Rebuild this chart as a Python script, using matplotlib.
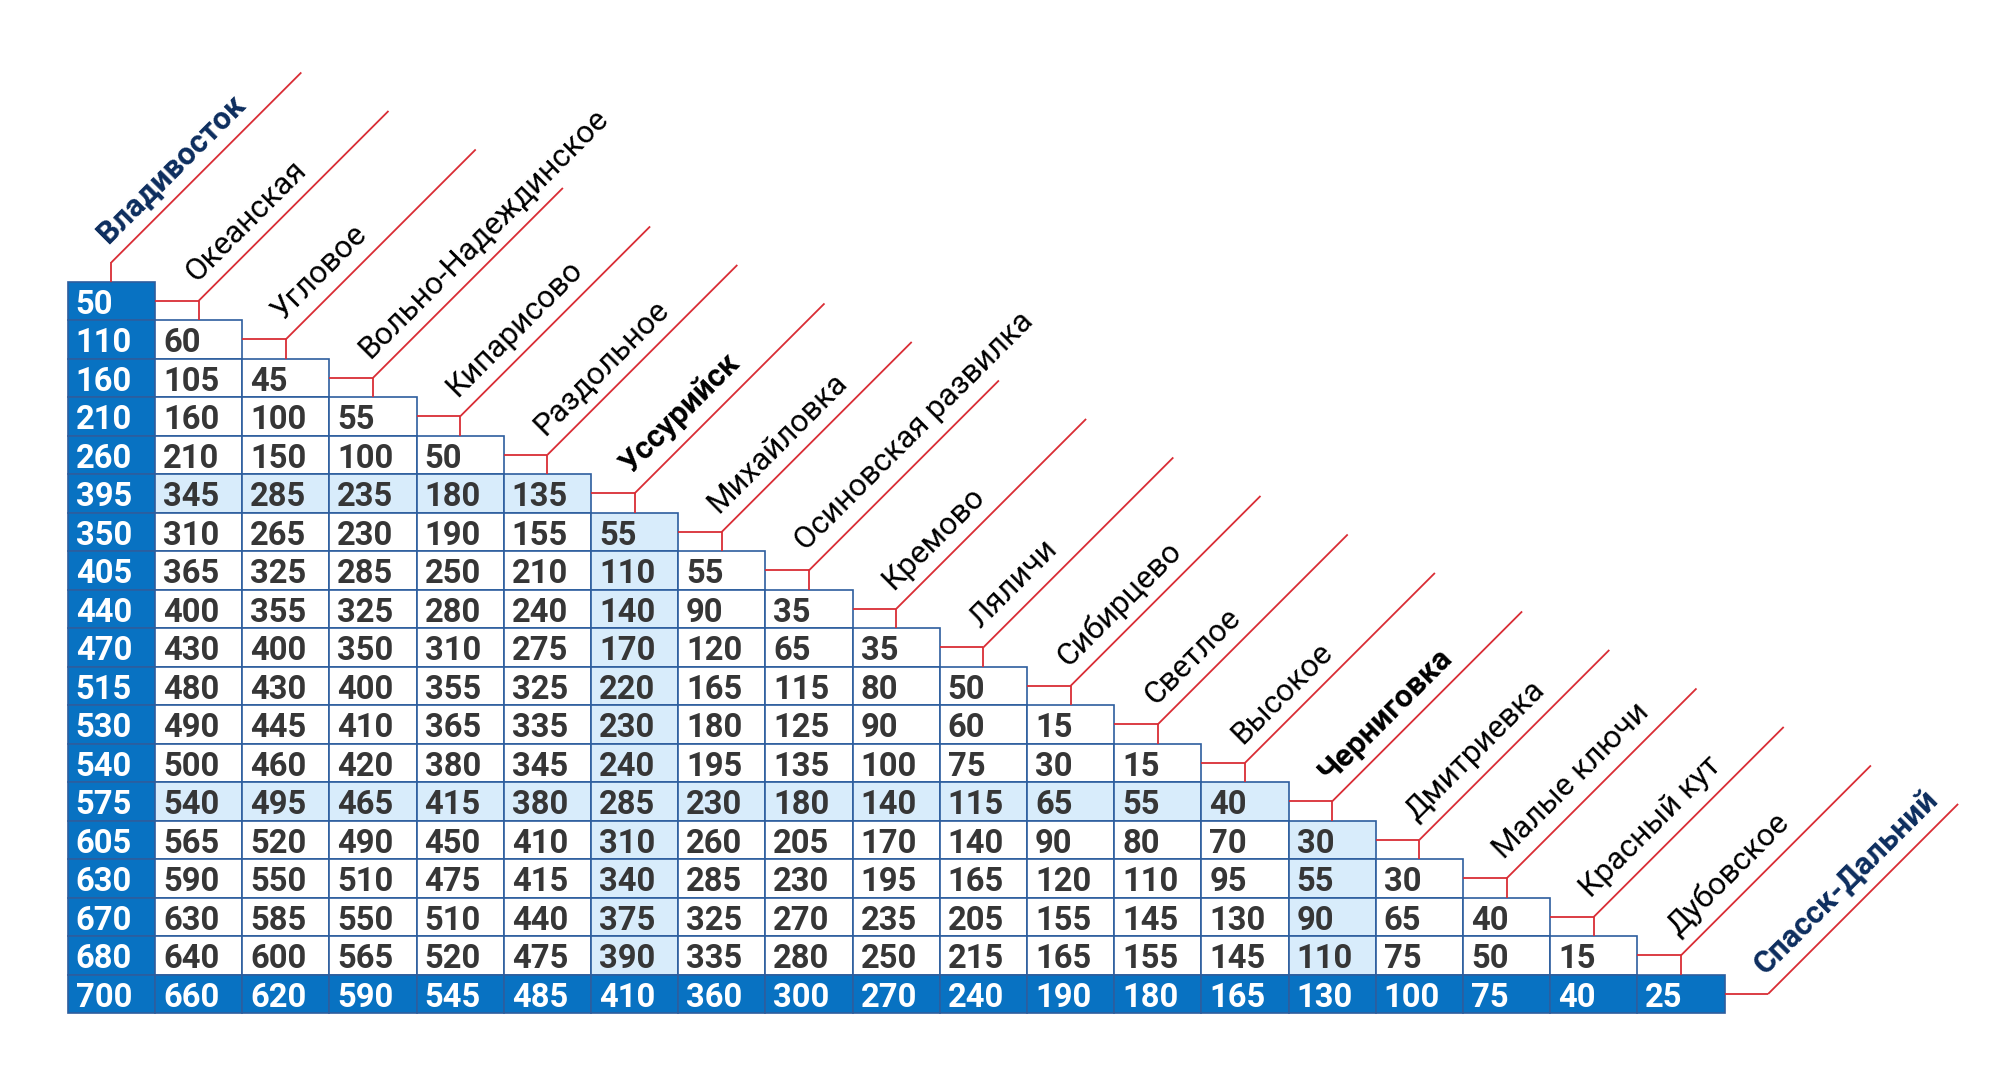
import math
import matplotlib
matplotlib.use("Agg")
import matplotlib.pyplot as plt
from matplotlib.patches import Rectangle
from matplotlib import font_manager as fm

# ---------------- data ----------------
stations = [
    "Владивосток", "Океанская", "Угловое", "Вольно-Надеждинское", "Кипарисово",
    "Раздольное", "Уссурийск", "Михайловка", "Осиновская развилка", "Кремово",
    "Ляличи", "Сибирцево", "Светлое", "Высокое", "Черниговка", "Дмитриевка",
    "Малые ключи", "Красный кут", "Дубовское", "Спасск-Дальний",
]
bold_stations = ["Владивосток", "Уссурийск", "Черниговка", "Спасск-Дальний"]
navy_stations = ["Владивосток", "Спасск-Дальний"]
hub_stations = ["Уссурийск", "Черниговка"]

dist_rows = [
    [50],
    [110, 60],
    [160, 105, 45],
    [210, 160, 100, 55],
    [260, 210, 150, 100, 50],
    [395, 345, 285, 235, 180, 135],
    [350, 310, 265, 230, 190, 155, 55],
    [405, 365, 325, 285, 250, 210, 110, 55],
    [440, 400, 355, 325, 280, 240, 140, 90, 35],
    [470, 430, 400, 350, 310, 275, 170, 120, 65, 35],
    [515, 480, 430, 400, 355, 325, 220, 165, 115, 80, 50],
    [530, 490, 445, 410, 365, 335, 230, 180, 125, 90, 60, 15],
    [540, 500, 460, 420, 380, 345, 240, 195, 135, 100, 75, 30, 15],
    [575, 540, 495, 465, 415, 380, 285, 230, 180, 140, 115, 65, 55, 40],
    [605, 565, 520, 490, 450, 410, 310, 260, 205, 170, 140, 90, 80, 70, 30],
    [630, 590, 550, 510, 475, 415, 340, 285, 230, 195, 165, 120, 110, 95, 55, 30],
    [670, 630, 585, 550, 510, 440, 375, 325, 270, 235, 205, 155, 145, 130, 90, 65, 40],
    [680, 640, 600, 565, 520, 475, 390, 335, 280, 250, 215, 165, 155, 145, 110, 75, 50, 15],
    [700, 660, 620, 590, 545, 485, 410, 360, 300, 270, 240, 190, 180, 165, 130, 100, 75, 40, 25],
]

# ---------------- style ----------------
DARK_BLUE = "#0872C2"
LIGHT_BLUE = "#D8ECFB"
BORDER = "#2D5E9E"
RED = "#D92D35"
NUM_DARK = "#363636"
NAVY = "#0C2D5E"

avail = {f.name for f in fm.fontManager.ttflist}


def pick(*names):
    for n in names:
        if n in avail:
            return n
    return "DejaVu Sans"


num_font = pick("Roboto", "Noto Sans", "Liberation Sans")
lab_font = pick("Roboto", "Noto Sans", "Open Sans", "DejaVu Sans")

W, H = 2000, 1070
fig = plt.figure(figsize=(W / 100, H / 100), dpi=100)
ax = fig.add_axes([0, 0, 1, 1])
ax.set_xlim(0, W)
ax.set_ylim(H, 0)
ax.axis("off")

x0, y0 = 67.7, 281.7
cw, rh = 87.2, 38.5
num_fs = 23.6
num_px = num_fs / 0.72
cap = 0.711 * num_px
diag = 190
lab_fs = 22.6

n_rows = len(dist_rows)
hub_idx = [stations.index(s) for s in hub_stations]

# cells
for r, row in enumerate(dist_rows):
    st_row = r + 1
    for c, val in enumerate(row):
        if c == 0 or r == n_rows - 1:
            fc, tc = DARK_BLUE, "white"
        elif st_row in hub_idx or c in hub_idx:
            fc, tc = LIGHT_BLUE, NUM_DARK
        else:
            fc, tc = "white", NUM_DARK
        left = x0 + c * cw
        top = y0 + r * rh
        ax.add_patch(Rectangle((left, top), cw, rh, facecolor=fc,
                               edgecolor=BORDER, linewidth=1.2, zorder=2))
        ax.text(left + 8, top + rh / 2 + cap / 2 + 1, str(val), color=tc,
                fontsize=num_fs, fontweight="bold", family=num_font,
                ha="left", va="baseline", zorder=3)

# connectors and labels
ux, uy = 1 / math.sqrt(2), -1 / math.sqrt(2)
nx, ny = -1 / math.sqrt(2), -1 / math.sqrt(2)
lw_red = 1.3
for j, name in enumerate(stations):
    cx = x0 + (j + 0.5) * cw
    cy = y0 + (j - 0.5) * rh
    if j == 0:
        ax.plot([cx, cx], [cy, y0], color=RED, lw=lw_red, solid_capstyle="butt", zorder=4)
    elif j < n_rows:
        ax.plot([x0 + j * cw, cx], [cy, cy], color=RED, lw=lw_red, solid_capstyle="butt", zorder=4)
        ax.plot([cx, cx], [cy, cy + rh / 2], color=RED, lw=lw_red, solid_capstyle="butt", zorder=4)
    else:
        ax.plot([x0 + j * cw, cx], [cy, cy], color=RED, lw=lw_red, solid_capstyle="butt", zorder=4)
    ax.plot([cx, cx + diag], [cy, cy - diag], color=RED, lw=lw_red,
            solid_capstyle="butt", zorder=4)
    a, b = 11, 15
    tx = cx + a * ux + b * nx
    ty = cy + a * uy + b * ny
    weight = "bold" if name in bold_stations else "normal"
    color = NAVY if name in navy_stations else "black"
    ax.text(tx, ty, name, rotation=45, rotation_mode="anchor", ha="left",
            va="baseline", fontsize=lab_fs, fontweight=weight, color=color,
            family=lab_font, zorder=5)

fig.savefig("out.png", dpi=100, facecolor="white")
